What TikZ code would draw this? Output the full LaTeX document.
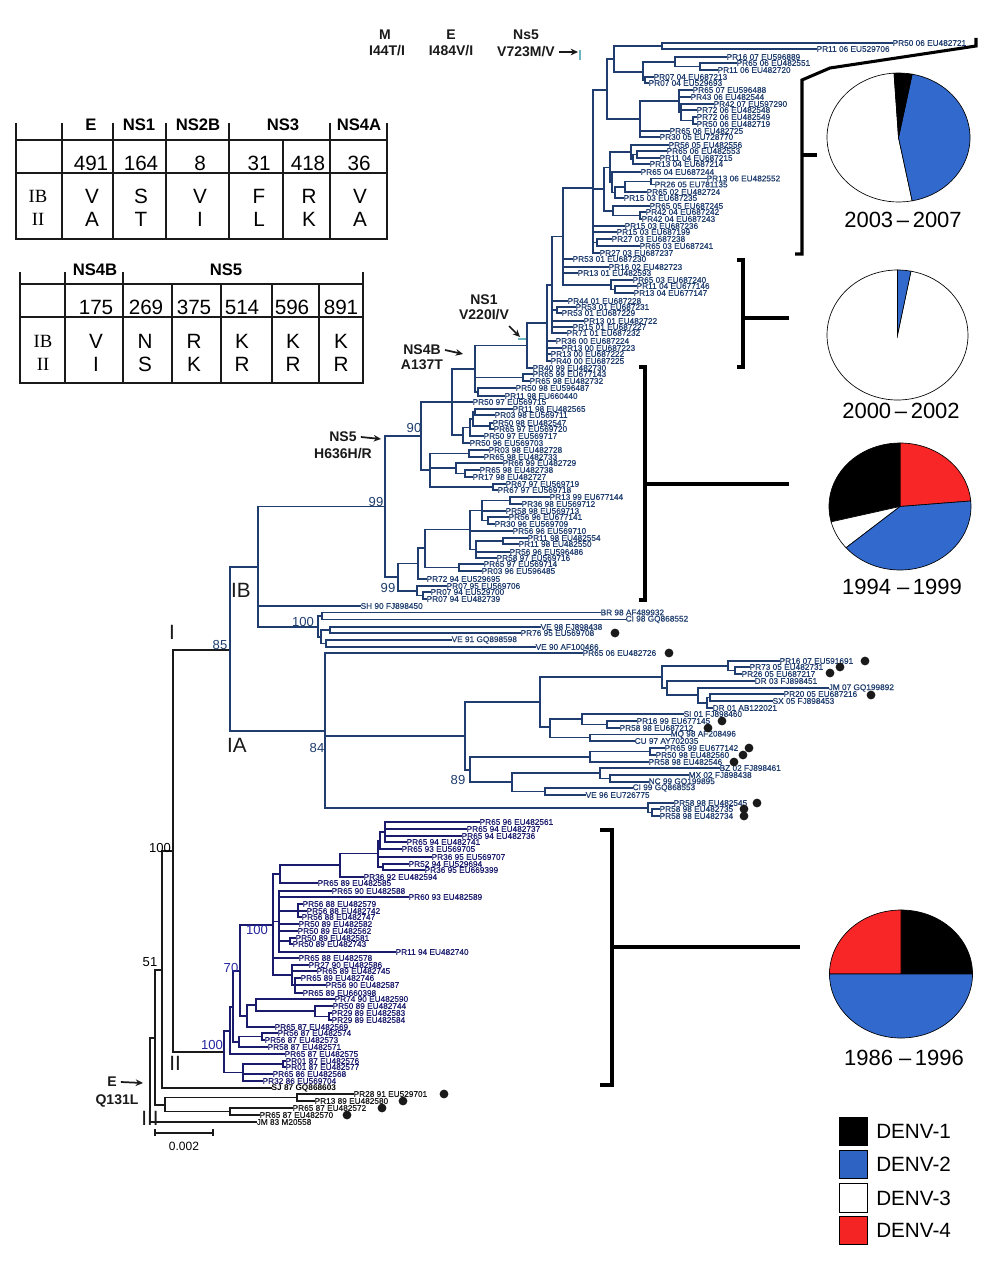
\documentclass[tikz,border=0pt]{standalone}
\usepackage{fontspec}
\setmainfont{Liberation Sans}
\newfontfamily\serifL{Liberation Serif}
\newfontface\lblface[FakeBold=0.35]{Liberation Sans}
\usetikzlibrary{arrows.meta}
\definecolor{navA}{HTML}{1F3D6E}
\definecolor{navB}{HTML}{1B1B6E}
\definecolor{bsB}{HTML}{2626A0}
\definecolor{tealM}{HTML}{6CB6C2}
\definecolor{denvB}{HTML}{2E63C4}
\definecolor{denvR}{HTML}{F42424}
\definecolor{inkK}{HTML}{1A1A1A}
\definecolor{blueC}{HTML}{3169CC}
\definecolor{blueE}{HTML}{1C4591}
\definecolor{redC}{HTML}{F82626}
\definecolor{redE}{HTML}{BC1616}
\pgfdeclareradialshading{shBlue}{\pgfpoint{0bp}{0bp}}{color(0bp)=(blueC); color(36bp)=(blueC); color(50bp)=(blueE); color(70bp)=(blueE)}
\pgfdeclareradialshading{shRed}{\pgfpoint{0bp}{0bp}}{color(0bp)=(redC); color(36bp)=(redC); color(50bp)=(redE); color(70bp)=(redE)}
\newcommand\Nd[4]{\coordinate (#1) at (#3,#4); \draw[br] (#2) |- (#1);}
\newcommand\Lf[5]{\node[lbl] (#1) at (#3,#4) {#5}; \draw[br] (#2) |- (#1.west);}
\newcommand\Dt[3]{\node[dotc] (#1) at (#2,#3) {};}
\newcommand\Wdg[5]{\filldraw[pie, fill=#1] (0,0) -- (#2:#4 and #5) arc[start angle=#2, end angle=#3, x radius=#4, y radius=#5] -- cycle;}
\newcommand\SWdg[5]{\begin{scope}\clip (0,0) -- (#2:#4 and #5) arc[start angle=#2, end angle=#3, x radius=#4, y radius=#5] -- cycle;
  \shade[shading=#1] (0,0) ellipse [x radius=#4, y radius=#5];\end{scope}
  \draw[pie] (0,0) -- (#2:#4 and #5) arc[start angle=#2, end angle=#3, x radius=#4, y radius=#5] -- cycle;}
\begin{document}
\begin{tikzpicture}[x=0.75pt,y=-0.75pt,
  br/.style={draw=navA, line width=1.3pt, line cap=rect},
  lbl/.style={anchor=west, inner sep=0.3pt, font=\lblface\fontsize{6.2}{6.2}\selectfont, text=navA},
  dotc/.style={circle, fill=inkK, inner sep=0pt, minimum size=6.6pt},
  bs/.style={inner sep=0pt, font=\fontsize{9.8}{10}\selectfont, text=navA},
  bsk/.style={bs, text=black},
  bsb/.style={bs, text=bsB},
  cl/.style={inner sep=0pt, font=\fontsize{15.5}{16}\selectfont, text=inkK},
  mut/.style={inner sep=0pt, font=\bfseries\fontsize{10.5}{11}\selectfont, text=inkK},
  arr/.style={-{Stealth[length=5.5pt,width=5pt]}, line width=1.3pt, draw=inkK},
  tbl/.style={draw=inkK, line width=2pt},
  th/.style={inner sep=0pt, font=\bfseries\fontsize{12.5}{13}\selectfont},
  tn/.style={inner sep=0pt, font=\fontsize{15.5}{16}\selectfont},
  ts/.style={inner sep=0pt, font=\serifL\fontsize{14}{15}\selectfont},
  brk/.style={draw=black, line width=2.3pt},
  pie/.style={draw=black, line width=0.5pt},
  yr/.style={inner sep=0pt, font=\fontsize{16.5}{17}\selectfont},
  lgbox/.style={draw=black, line width=0.8pt, minimum width=21.5pt, minimum height=21.5pt, inner sep=0pt},
  lgtxt/.style={anchor=west, inner sep=0pt, font=\fontsize{15.5}{16}\selectfont}
]
\useasboundingbox (0,0) rectangle (1000,1276);
\fill[white] (0,0) rectangle (1000,1276);

% ---------------- root part (black)
\begin{scope}[br/.style={draw=inkK, line width=1.3pt, line cap=rect}, lbl/.append style={text=inkK}]
\coordinate (R0) at (150,1080);
\Nd{R1}{R0}{155}{1038}
\Nd{N51}{R1}{162}{970}
\Nd{R3}{R1}{165}{1105}
\Nd{R100}{N51}{173}{851}
\Nd{In}{R100}{230}{650}
\Nd{H100}{R100}{224}{1052}
\Nd{R4}{R3}{297}{1097.5}
\Nd{R5}{R3}{230}{1111.5}
\Lf{jm}{R0}{256}{1122}{JM 83 M20558}
\Lf{z1}{R4}{353}{1094}{PR28 91 EU529701}
\Lf{z2}{R4}{314}{1101}{PR13 89 EU482580}
\Lf{z3}{R5}{292}{1108}{PR65 87 EU482572}
\Lf{z4}{R5}{259}{1115}{PR65 87 EU482570}
\node[lbl, font=\bfseries\fontsize{6.2}{6.2}\selectfont, text=black] (sj) at (271,1088) {SJ 87 GQ868603};
\draw[br] (N51) |- (sj.west);
\end{scope}

% ---------------- clade I (IB, IA)
\Nd{IB}{In}{258}{567}
\Nd{IA}{In}{325}{731}
\Nd{N99}{IB}{385}{506.5}
\Lf{sh}{IB}{360}{606}{SH 90 FJ898450}
\Nd{K100}{IB}{318}{627}
\Nd{K1}{K100}{322}{616}
\Nd{K2}{K100}{321}{637}
\Lf{k1}{K1}{600}{612.5}{BR 98 AF489932}
\Lf{k2}{K1}{625}{619.5}{CI 98 GQ868552}
\Nd{K3}{K2}{330}{630}
\Nd{K4}{K2}{326}{643.5}
\Lf{k3}{K3}{540}{627}{VE 98 FJ898438}
\Lf{k4}{K3}{520}{633}{PR76 95 EU569708}
\Lf{k5}{K4}{451}{640}{VE 91 GQ898598}
\Lf{k6}{K4}{535}{647}{VE 90 AF100466}

\Nd{N90}{N99}{421}{436}
\Nd{Nx}{N99}{398}{577}
\Nd{U1}{N90}{452}{402}
\Nd{V5}{N90}{430}{470}
\Nd{T475}{U1}{475}{369}
\Lf{u1}{U1}{472}{402}{PR50 97 EU569715}
\Nd{U2}{U1}{463}{435}
\Nd{S527}{T475}{527}{345.5}
\Nd{U7}{T475}{523}{377.5}
\Nd{U8}{T475}{478}{392}
\Lf{u2}{U7}{532}{374}{PR65 99 EU677143}
\Lf{u3}{U7}{529}{381}{PR65 98 EU482732}
\Lf{u4}{U8}{515}{388}{PR50 98 EU596487}
\Lf{u5}{U8}{504}{396}{PR11 98 EU660440}
\Nd{S547}{S527}{547}{323}
\Lf{s1}{S527}{532}{368}{PR40 99 EU482730}
\Nd{S552}{S547}{552}{285}
\Lf{s2}{S547}{555}{341}{PR36 00 EU687224}
\Lf{s3}{S547}{561}{348}{PR13 00 EU687223}
\Lf{s4}{S547}{550}{354}{PR13 00 EU687222}
\Lf{s5}{S547}{550}{361}{PR40 00 EU687225}
\Nd{S563}{S552}{563}{236.5}
\Lf{s6}{S552}{567}{301}{PR44 01 EU687228}
\Nd{S557}{S552}{557}{310}
\Lf{s7}{S557}{575}{307}{PR53 01 EU687231}
\Lf{s8}{S557}{561}{313}{PR53 01 EU687229}
\Lf{s9}{S552}{583}{321}{PR13 01 EU482722}
\Lf{s10}{S552}{572}{327}{PR15 01 EU687227}
\Lf{s11}{S552}{566}{333}{PR71 01 EU687232}
\Nd{M593}{S563}{593}{188}
\Lf{s12}{S563}{572}{259}{PR53 01 EU687230}
\Lf{s13}{S563}{608}{267}{PR16 02 EU482723}
\Lf{s14}{S563}{577}{273}{PR13 01 EU482593}
\Nd{S611}{S563}{611}{285}
\Lf{s15}{S611}{632}{280}{PR65 03 EU687240}
\Nd{S615}{S611}{615}{289.5}
\Lf{s16}{S615}{636}{286}{PR11 04 EU677146}
\Lf{s17}{S615}{633}{293}{PR13 04 EU677147}

\Nd{B}{M593}{607}{90}
\Nd{A}{B}{614}{59}
\Nd{A1}{A}{662}{46}
\Lf{a1}{A1}{892}{43}{PR50 06 EU482721}
\Lf{a2}{A1}{816}{49}{PR11 06 EU529706}
\Nd{A2}{A}{643}{72}
\Nd{A3}{A2}{675}{62}
\Lf{a3}{A3}{726}{57}{PR16 07 EU596889}
\Nd{A5}{A3}{700}{66.5}
\Lf{a4}{A5}{736}{63}{PR65 06 EU482551}
\Lf{a5}{A5}{717}{70}{PR11 06 EU482720}
\Nd{A4}{A2}{645}{80}
\Lf{a6}{A4}{653}{77}{PR07 04 EU687213}
\Lf{a7}{A4}{648}{83}{PR07 04 EU529693}
\Nd{C}{B}{640}{119}
\Nd{D}{C}{679}{101}
\Lf{c1}{D}{692}{90}{PR65 07 EU596488}
\Lf{c2}{D}{690}{97}{PR43 06 EU482544}
\Nd{D2}{D}{681}{112}
\Lf{c3}{D2}{713}{104}{PR42 07 EU597290}
\Lf{c4}{D2}{696}{110}{PR72 06 EU482548}
\Nd{D3}{D2}{693}{120.5}
\Lf{c5}{D3}{696}{117}{PR72 06 EU482549}
\Lf{c6}{D3}{696}{124}{PR50 06 EU482719}
\Lf{c7}{C}{669}{131}{PR65 06 EU482725}
\Lf{c8}{C}{659}{137}{PR30 05 EU728770}

\Nd{N11}{M593}{604}{189}
\Nd{N4}{N11}{610}{167.5}
\Nd{N1}{N4}{631}{152}
\Lf{n1}{N1}{668}{145}{PR56 05 EU482556}
\Nd{N2}{N1}{633}{159}
\Nd{N3}{N2}{637}{154.5}
\Lf{n2}{N3}{666}{151}{PR65 06 EU482553}
\Lf{n3}{N3}{659}{158}{PR11 04 EU687215}
\Lf{n4}{N2}{649}{164}{PR13 04 EU687214}
\Nd{N5}{N4}{612}{182.5}
\Lf{n5}{N5}{640}{172}{PR65 04 EU687244}
\Nd{N6}{N5}{615}{192.5}
\Nd{N7}{N6}{625}{187}
\Nd{N8}{N7}{651}{181.5}
\Lf{n6}{N8}{706}{178.5}{PR13 06 EU482552}
\Lf{n7}{N8}{654}{184.5}{PR26 05 EU781135}
\Lf{n8}{N7}{646}{192}{PR65 02 EU482724}
\Lf{n9}{N6}{623}{198}{PR15 03 EU687235}
\Nd{N9}{N11}{613}{211}
\Lf{n10}{N9}{649}{206}{PR65 05 EU687245}
\Nd{N10}{N9}{640}{215.5}
\Lf{n11}{N10}{645}{212}{PR42 04 EU687242}
\Lf{n12}{N10}{641}{219}{PR42 04 EU687243}
\Lf{m1}{M593}{624}{226}{PR15 03 EU687236}
\Lf{m2}{M593}{616}{232}{PR15 03 EU687199}
\Nd{N14}{M593}{597}{242.5}
\Lf{m3}{N14}{611}{239}{PR27 03 EU687238}
\Lf{m4}{N14}{639}{246}{PR65 03 EU687241}
\Lf{m5}{M593}{599}{253}{PR27 03 EU687237}

\Nd{U3}{U2}{470}{427.5}
\Lf{u6}{U2}{469}{443}{PR50 96 EU569703}
\Nd{U4}{U3}{473}{419}
\Lf{u7}{U3}{483}{436}{PR50 97 EU569717}
\Nd{U5}{U4}{475}{412}
\Nd{U6}{U4}{490}{426}
\Lf{u8}{U5}{512}{409}{PR11 98 EU482565}
\Lf{u9}{U5}{494}{415}{PR03 98 EU569711}
\Lf{u10}{U6}{492}{423}{PR50 98 EU482547}
\Lf{u11}{U6}{493}{429}{PR65 97 EU569720}
\Nd{V1}{V5}{469}{453.5}
\Lf{v1}{V1}{488}{450}{PR03 98 EU482728}
\Lf{v2}{V1}{483}{457}{PR65 98 EU482733}
\Nd{V2}{V5}{456}{468}
\Lf{v3}{V2}{502}{463}{PR66 99 EU482729}
\Nd{V3}{V2}{465}{473.5}
\Lf{v4}{V3}{479}{470}{PR65 98 EU482738}
\Lf{v5}{V3}{472}{477}{PR17 98 EU482727}
\Nd{V4}{V5}{493}{487}
\Lf{v6}{V4}{505}{484}{PR67 97 EU569719}
\Lf{v7}{V4}{497}{490}{PR67 97 EU569718}

\Nd{Na}{Nx}{418}{563.5}
\Nd{Nc}{Na}{425}{548}
\Nd{Ndd}{Nc}{470}{529.5}
\Nd{Ng1}{Ndd}{482}{510.5}
\Nd{Nf}{Ng1}{510}{500.5}
\Lf{w1}{Nf}{549}{497}{PR13 99 EU677144}
\Lf{w2}{Nf}{521}{504}{PR36 98 EU569712}
\Lf{w3}{Ng1}{505}{511}{PR58 98 EU569713}
\Nd{Ng}{Ng1}{488}{520.5}
\Lf{w4}{Ng}{508}{517}{PR56 96 EU677141}
\Lf{w5}{Ng}{494}{524}{PR30 96 EU569709}
\Lf{w6}{Ndd}{512}{531}{PR56 96 EU569710}
\Nd{Nh}{Ndd}{476}{549.5}
\Nd{Ni}{Nh}{503}{541}
\Lf{w7}{Ni}{527}{538}{PR11 98 EU482554}
\Lf{w8}{Ni}{518}{544}{PR11 98 EU482550}
\Lf{w9}{Nh}{509}{552}{PR56 96 EU596486}
\Lf{w10}{Nh}{496}{558}{PR58 97 EU569716}
\Nd{Ne}{Nc}{459}{567.5}
\Lf{w11}{Ne}{483}{564}{PR65 97 EU569714}
\Lf{w12}{Ne}{481}{571}{PR03 96 EU596485}
\Lf{w13}{Na}{426}{579}{PR72 94 EU529695}
\Nd{Nb}{Nx}{417}{591}
\Lf{w14}{Nb}{446}{586}{PR07 95 EU569706}
\Nd{Nb2}{Nb}{423}{595.5}
\Lf{w15}{Nb2}{430}{592}{PR07 94 EU529700}
\Lf{w16}{Nb2}{426}{599}{PR07 94 EU482739}

\Lf{ia1}{IA}{582}{653}{PR65 06 EU482726}
\Nd{M1}{IA}{465}{736}
\Nd{B1}{M1}{540}{702}
\Nd{A1p}{B1}{662}{677}
\Nd{A2p}{A1p}{728}{666}
\Lf{ia2}{A2p}{779}{661}{PR16 07 EU591691}
\Nd{A4p}{A2p}{735}{670.5}
\Lf{ia3}{A4p}{749}{667}{PR73 05 EU482731}
\Lf{ia4}{A4p}{741}{674}{PR26 05 EU687217}
\Nd{A3p}{A1p}{667}{688}
\Lf{ia5}{A3p}{754}{681}{DR 03 FJ898451}
\Nd{A5p}{A3p}{698}{695}
\Lf{ia6}{A5p}{828}{688}{JM 07 GQ199892}
\Nd{A6p}{A5p}{707}{703}
\Nd{A7p}{A6p}{710}{697.5}
\Lf{ia7}{A7p}{783}{694}{PR20 05 EU687216}
\Lf{ia8}{A7p}{772}{701}{SX 05 FJ898453}
\Lf{ia9}{A6p}{712}{708}{DR 01 AB122021}
\Nd{B2}{B1}{550}{727}
\Nd{B3}{B2}{582}{719}
\Lf{ia10}{B3}{683}{714}{SI 01 FJ898460}
\Nd{B5}{B3}{607}{724.5}
\Lf{ia11}{B5}{636}{721}{PR16 99 EU677145}
\Lf{ia12}{B5}{619}{728}{PR58 98 EU687212}
\Nd{B4}{B2}{590}{737.5}
\Lf{ia13}{B4}{670}{734.5}{MQ 98 AF208496}
\Lf{ia14}{B4}{634}{741}{CU 97 AY702035}
\Nd{M2}{M1}{470}{770}
\Nd{C1}{M2}{590}{757}
\Nd{C2}{C1}{650}{751.5}
\Lf{ia15}{C2}{664}{748}{PR65 99 EU677142}
\Lf{ia16}{C2}{655}{755}{PR50 98 EU482560}
\Lf{ia17}{C1}{648}{762}{PR58 98 EU482546}
\Nd{D1}{M2}{512}{782}
\Nd{D2p}{D1}{600}{773}
\Lf{ia18}{D2p}{719}{768}{BZ 02 FJ898461}
\Nd{D4p}{D2p}{610}{778.5}
\Lf{ia19}{D4p}{688}{775}{MX 02 FJ898438}
\Lf{ia20}{D4p}{648}{782}{NC 99 GQ199895}
\Nd{D3p}{D1}{545}{791.5}
\Lf{ia21}{D3p}{632}{788}{CI 99 GQ868553}
\Lf{ia22}{D3p}{585}{795}{VE 96 EU726775}
\Nd{E1}{IA}{648}{808}
\Lf{ia23}{E1}{673}{803}{PR58 98 EU482545}
\Nd{E2}{E1}{652}{812.5}
\Lf{ia24}{E2}{659}{809}{PR58 98 EU482735}
\Lf{ia25}{E2}{659}{816}{PR58 98 EU482734}

% ---------------- clade II
\begin{scope}[br/.style={draw=navB, line width=1.3pt, line cap=rect}, lbl/.append style={text=navB}]
\Nd{H1}{H100}{230}{1031}
\Nd{H2}{H100}{243}{1072.5}
\Nd{H3}{H1}{233}{1007}
\Lf{h1}{H1}{284}{1054}{PR65 87 EU482575}
\Nd{H70}{H3}{240}{971}
\Nd{H4}{H3}{239}{1042}
\Nd{H100b}{H70}{273}{925}
\Nd{H5}{H70}{247}{1016}
\Nd{G1}{H100b}{280}{874}
\Nd{F1}{G1}{340}{865}
\Nd{F6}{F1}{378}{853.5}
\Nd{F4}{F6}{380}{840.5}
\Nd{F3}{F4}{385}{832}
\Lf{f1}{F3}{479}{822}{PR65 96 EU482561}
\Lf{f2}{F3}{466}{829}{PR65 94 EU482737}
\Lf{f3}{F3}{461}{836}{PR65 94 EU482736}
\Lf{f4}{F3}{406}{842}{PR65 94 EU482741}
\Lf{f5}{F4}{401}{849}{PR65 93 EU569705}
\Lf{f6}{F6}{431}{857}{PR36 95 EU569707}
\Nd{F5}{F6}{383}{867}
\Lf{f7}{F5}{408}{864}{PR52 94 EU529694}
\Lf{f8}{F5}{424}{870}{PR36 95 EU669399}
\Lf{f9}{F1}{363}{877}{PR36 92 EU482594}
\Lf{g1}{G1}{317}{883}{PR65 89 EU482585}
\Nd{G4}{H100b}{279}{921.5}
\Lf{g2}{G4}{331}{891}{PR65 90 EU482588}
\Lf{g3}{G4}{408}{897}{PR60 93 EU482589}
\Nd{G2}{G4}{298}{911}
\Lf{g4}{G2}{302}{904}{PR56 88 EU482579}
\Lf{g5}{G2}{306}{911}{PR56 88 EU482742}
\Lf{g6}{G2}{301}{917}{PR56 88 EU482747}
\Lf{g7}{G4}{298}{924}{PR50 89 EU482582}
\Lf{g8}{G4}{297}{931}{PR50 89 EU482562}
\Nd{G3}{G4}{290}{941}
\Lf{g9}{G3}{295}{938}{PR50 89 EU482581}
\Lf{g10}{G3}{292}{944}{PR50 89 EU482743}
\Lf{g11}{G4}{395}{952}{PR11 94 EU482740}
\Lf{g12}{H100b}{298}{958}{PR65 88 EU482578}
\Nd{G5}{H100b}{292}{975}
\Lf{g13}{G5}{308}{965}{PR27 90 EU482586}
\Lf{g14}{G5}{316}{971}{PR65 89 EU482745}
\Nd{G6}{G5}{295}{985}
\Lf{g15}{G6}{300}{978}{PR65 89 EU482746}
\Lf{g16}{G6}{325}{985}{PR56 90 EU482587}
\Lf{g17}{G6}{302}{993}{PR65 89 EU660398}
\Nd{H6}{H5}{256}{1005}
\Lf{h2}{H6}{334}{999}{PR74 90 EU482590}
\Nd{H7}{H6}{315}{1011}
\Lf{h3}{H7}{332}{1006}{PR50 89 EU482744}
\Nd{H8}{H7}{329}{1016.5}
\Lf{h4}{H8}{331}{1013}{PR29 89 EU482583}
\Lf{h5}{H8}{331}{1020}{PR29 89 EU482584}
\Lf{h6}{H5}{274}{1027}{PR65 87 EU482569}
\Nd{H9}{H4}{262}{1036.5}
\Lf{h7}{H9}{277}{1033}{PR56 87 EU482574}
\Lf{h8}{H9}{264}{1040}{PR56 87 EU482573}
\Lf{h9}{H4}{267}{1047}{PR58 87 EU482571}
\Nd{H10}{H2}{283}{1064}
\Lf{h10}{H10}{285}{1061}{PR01 87 EU482576}
\Lf{h11}{H10}{285}{1067}{PR01 87 EU482577}
\Lf{h12}{H2}{272}{1074}{PR65 86 EU482568}
\Lf{h13}{H2}{262}{1081}{PR32 86 EU569704}
\end{scope}

% ---------------- dots
\Dt{d1}{669}{653} \Dt{d2}{615}{633} \Dt{d3}{865}{661} \Dt{d4}{840}{667}
\Dt{d5}{830}{673} \Dt{d6}{871}{695} \Dt{d7}{722}{721} \Dt{d8}{708}{728}
\Dt{d9}{749}{748} \Dt{d10}{743}{755} \Dt{d11}{734}{762} \Dt{d12}{757}{803}
\Dt{d13}{744}{809} \Dt{d14}{744}{816} \Dt{d15}{444}{1094} \Dt{d16}{403}{1101}
\Dt{d17}{382}{1108} \Dt{d18}{347}{1115}

% ---------------- bootstrap values and clade labels
\node[bs] (b99a) at (376,502) {99};
\node[bs] (b90) at (414,428) {90};
\node[bs] (b99b) at (388,588) {99};
\node[bs] (b100a) at (303,622) {100};
\node[bs] (b85) at (220,645) {85};
\node[bs] (b84) at (317,748) {84};
\node[bs] (b89) at (458,780) {89};
\node[bsk] (b100k) at (160,848) {100};
\node[bsk] (b51) at (150,962) {51};
\node[bsb] (b100c) at (257,930) {100};
\node[bsb] (b70) at (231,968) {70};
\node[bsb] (b100d) at (212,1045) {100};
\node[cl] (lI) at (172,632) {I};
\node[cl] (lIB) at (241,590) {IB};
\node[cl] (lIA) at (237,745) {IA};
\node[cl] (lII) at (175,1063) {II};
\node[cl] (lIII) at (150,1118) {III};

% ---------------- scale bar
\coordinate (sb1) at (155,1133); \coordinate (sb2) at (213,1133);
\draw[inkK, line width=0.8pt] (sb1) -- (sb2) (155,1129) -- (155,1136) (213,1129) -- (213,1136);
\node[inner sep=0pt, font=\fontsize{9}{9}\selectfont] (sbt) at (184,1146) {0.002};

% ---------------- mutation labels
\node[mut] (mM) at (385,35) {M};
\node[mut] (mMv) at (387,51) {I44T/I};
\node[mut] (mE) at (451,35) {E};
\node[mut] (mEv) at (451,51) {I484V/I};
\node[mut] (mN) at (526,35) {Ns5};
\node[mut] (mNv) at (526,52) {V723M/V};
\coordinate (aN) at (578,52);
\draw[arr] ([xshift=3pt]mNv.east) -- (aN);
\draw[tealM, line width=1pt] (580,50) -- (580,60);
\node[mut] (mS1) at (484,300) {NS1};
\node[mut] (mS1v) at (484,315) {V220I/V};
\coordinate (aS1) at (520,337);
\draw[arr] (509,326) -- (aS1);
\draw[tealM, line width=1pt] (518,339) -- (526,339);
\node[mut] (mS4) at (422,350) {NS4B};
\node[mut] (mS4v) at (422,365) {A137T};
\coordinate (aS4) at (463,354);
\draw[arr] ([xshift=3pt]mS4.east) -- (aS4);
\node[mut] (mS5) at (343,437) {NS5};
\node[mut] (mS5v) at (343,454) {H636H/R};
\coordinate (aS5) at (381,439);
\draw[arr] ([xshift=3pt]mS5.east) -- (aS5);
\node[mut] (mQ) at (112,1082) {E};
\node[mut] (mQv) at (117,1101) {Q131L};
\coordinate (aQ) at (143,1083);
\draw[arr] ([xshift=3pt]mQ.east) -- (aQ);

% ---------------- tables
\draw[tbl] (16,123) -- (16,239) -- (387,239) -- (387,123);
\draw[tbl] (16,140) -- (387,140) (16,173) -- (387,173);
\foreach \cx in {62,113,166,229,330} \draw[tbl] (\cx,123) -- (\cx,239);
\draw[tbl] (283,140) -- (283,239);
\foreach \x/\t [count=\i] in {91/E,139/NS1,198/NS2B,283/NS3,359/NS4A} \node[th] (ta\i) at (\x,125) {\t};
\foreach \x/\t [count=\i] in {91/491,141/164,200/8,259/31,308/418,359/36} \node[tn] (tb\i) at (\x,163) {\t};
\foreach \x/\t/\u [count=\i] in {92/V/A,141/S/T,200/V/I,259/F/L,309/R/K,360/V/A} {
  \node[tn] (tc\i) at (\x,196) {\t}; \node[tn] (td\i) at (\x,219) {\u};}
\node[ts] (tIB1) at (38,196) {IB};
\node[ts] (tII1) at (38,219) {II};

\draw[tbl] (20,272) -- (20,383) -- (363,383) -- (363,272);
\draw[tbl] (20,284) -- (363,284) (20,317) -- (363,317);
\draw[tbl] (65,272) -- (65,383) (123,272) -- (123,383);
\foreach \cx in {172,221,272,319} \draw[tbl] (\cx,284) -- (\cx,383);
\node[th] (te1) at (95,270) {NS4B};
\node[th] (te2) at (226,270) {NS5};
\foreach \x/\t [count=\i] in {96/175,146/269,194/375,242/514,292/596,341/891} \node[tn] (tf\i) at (\x,307) {\t};
\foreach \x/\t/\u [count=\i] in {96/V/I,145/N/S,194/R/K,242/K/R,293/K/R,341/K/R} {
  \node[tn] (tg\i) at (\x,341) {\t}; \node[tn] (th\i) at (\x,364) {\u};}
\node[ts] (tIB2) at (43,341) {IB};
\node[ts] (tII2) at (43,364) {II};

% ---------------- brackets
\draw[brk] (976,38) -- (976,46) -- (830,68) -- (802,80) -- (802,254) -- (795,254);
\draw[brk] (802,155) -- (817,155);
\draw[brk] (737,260) -- (743,260) -- (743,367) -- (737,367);
\draw[brk] (743,318) -- (789,318);
\draw[brk] (639,367) -- (645,367) -- (645,600) -- (639,600);
\draw[brk] (645,484) -- (789,484);
\draw[brk] (600,830) -- (612,830) -- (612,1085) -- (600,1085);
\draw[brk] (612,947) -- (800,947);

% ---------------- pies
\begin{scope}[shift={(898.5,137.5)}, yscale=-1]
\Wdg{white}{93.6}{281}{71.5}{64.5}
\SWdg{shBlue}{-79}{79}{71.5}{64.5}
\Wdg{black}{79}{93.6}{71.5}{64.5}
\end{scope}
\begin{scope}[shift={(897.5,335)}, yscale=-1]
\Wdg{white}{90}{439}{70.5}{65}
\SWdg{shBlue}{79}{90}{70.5}{65}
\end{scope}
\begin{scope}[shift={(900,506.5)}, yscale=-1]
\SWdg{shRed}{5}{90}{71}{63.5}
\Wdg{black}{90}{194}{71}{63.5}
\Wdg{white}{194}{220.5}{71}{63.5}
\SWdg{shBlue}{220.5}{365}{71}{63.5}
\end{scope}
\begin{scope}[shift={(901,974)}, yscale=-1]
\Wdg{black}{0}{90}{71.5}{64}
\SWdg{shRed}{90}{180}{71.5}{64}
\SWdg{shBlue}{180}{360}{71.5}{64}
\end{scope}
\node[yr] (y1) at (903,220) {2003\,–\,2007};
\node[yr] (y2) at (901,411) {2000\,–\,2002};
\node[yr] (y3) at (902,587) {1994 –\,1999};
\node[yr] (y4) at (904,1058) {1986 –\,1996};

% ---------------- legend
\node[lgbox, fill=black] (lg1) at (853.5,1131.5) {};
\node[lgbox, fill=denvB] (lg2) at (853.5,1164.5) {};
\node[lgbox, fill=white] (lg3) at (853.5,1198) {};
\node[lgbox, fill=denvR] (lg4) at (853.5,1230.5) {};
\node[lgtxt] (lt1) at (876,1131.5) {DENV-1};
\node[lgtxt] (lt2) at (876,1164.5) {DENV-2};
\node[lgtxt] (lt3) at (876,1198) {DENV-3};
\node[lgtxt] (lt4) at (876,1230.5) {DENV-4};
\end{tikzpicture}
\end{document}
